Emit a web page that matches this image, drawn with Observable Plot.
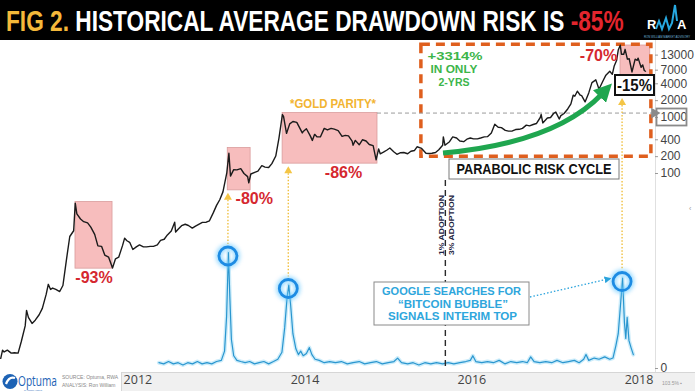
<!DOCTYPE html>
<html>
<head>
<meta charset="utf-8">
<script src="https://cdn.jsdelivr.net/npm/d3@7"></script>
<script src="https://cdn.jsdelivr.net/npm/@observablehq/plot@0.6"></script>
<style>
html,body{margin:0;padding:0;background:#fff;}
#wrap{position:relative;width:695px;height:391px;overflow:hidden;background:#fff;font-family:"Liberation Sans",Arial,sans-serif;}
.layer{position:absolute;left:0;top:40px;}
</style>
</head>
<body>
<div id="wrap">
  <svg id="title" width="695" height="40" style="position:absolute;left:0;top:0;background:#000">
    <g id="titleG"><text id="titleT" x="0" y="31" font-family="'Liberation Sans Narrow','Liberation Sans',Arial,sans-serif" font-weight="bold" font-size="30"><tspan fill="#f4b83a">FIG 2.</tspan><tspan fill="#ffffff"> HISTORICAL AVERAGE DRAWDOWN RISK IS </tspan><tspan fill="#e3252d">-85%</tspan></text></g>
    <text x="647" y="29" font-family="'Liberation Sans',Arial,sans-serif" font-weight="bold" font-size="13" fill="#ffffff">R</text>
    <polyline points="656,29 659,21 662,29 666,18 669,29 672,23 675,5 677,21" fill="none" stroke="#27a9e1" stroke-width="2"/>
    <text x="677" y="29" font-family="'Liberation Sans',Arial,sans-serif" font-weight="bold" font-size="13" fill="#ffffff">A</text>
    <text x="644" y="38" font-family="'Liberation Sans',Arial,sans-serif" font-size="3" fill="#6fb3d6" textLength="46" lengthAdjust="spacingAndGlyphs">RON WILLIAM MARKET ADVISORY</text>
  </svg>
  <div style="position:absolute;left:121px;top:372px;width:574px;height:19px;background:#f0f0f0;border-top:1px solid #d6d6d6;border-left:1px solid #d6d6d6;box-sizing:border-box"></div>
  <div style="position:absolute;left:655px;top:40px;width:1px;height:332px;background:#e0e0e0"></div>
  <div id="price" class="layer"></div>
  <div id="google" class="layer"></div>
  <svg id="ann" class="layer" width="695" height="351"></svg>
  <svg id="foot" width="695" height="19" style="position:absolute;left:0;top:372px">
    <circle cx="10" cy="9.5" r="7.5" fill="#1d63b5"/>
    <path d="M6,12 Q9,4 15,6" fill="none" stroke="#fff" stroke-width="2.2"/>
    <g id="optG" transform="translate(18,13.5) scale(1,1.3)"><text id="optT" x="0" y="0" font-family="'Open Sans',sans-serif" font-size="10.5" fill="#1d63b5">Optuma</text></g>
    <text x="24" y="18.8" font-family="'Open Sans',sans-serif" font-size="2.2" fill="#1d63b5">by Market Analyst</text>
    <text x="62" y="7" font-family="'Liberation Sans',Arial,sans-serif" font-size="5" fill="#888">SOURCE: Optuma, RWA</text>
    <text x="62" y="15" font-family="'Liberation Sans',Arial,sans-serif" font-size="5" fill="#888">ANALYSIS: Ron William</text>
    <text x="662" y="13" font-family="'Liberation Sans',Arial,sans-serif" font-size="5" fill="#999">103.5% ▪</text>
  </svg>
</div>
<script>
// ---------- DATA ----------
const priceDates = [
"2010-07-17","2010-07-25","2010-08-01","2010-08-15","2010-09-01","2010-09-15","2010-10-01","2010-10-15","2010-11-01","2010-11-07","2010-11-15","2010-12-01","2010-12-15",
"2011-01-01","2011-01-15","2011-02-01","2011-02-10","2011-02-20","2011-03-01","2011-03-15","2011-04-01","2011-04-15","2011-05-01","2011-05-15","2011-06-01","2011-06-08","2011-06-15","2011-07-01","2011-07-15","2011-08-01","2011-08-15","2011-09-01","2011-09-15","2011-10-01","2011-10-15","2011-11-01","2011-11-18","2011-12-01","2011-12-15",
"2012-01-01","2012-01-10","2012-01-20","2012-02-01","2012-02-15","2012-03-01","2012-03-15","2012-04-01","2012-04-15","2012-05-01","2012-05-15","2012-06-01","2012-06-15","2012-07-01","2012-07-15","2012-08-01","2012-08-16","2012-08-20","2012-09-01","2012-09-15","2012-10-01","2012-10-15","2012-11-01","2012-11-15","2012-12-01","2012-12-15",
"2013-01-01","2013-01-15","2013-02-01","2013-02-15","2013-03-01","2013-03-15","2013-04-01","2013-04-10","2013-04-17","2013-05-01","2013-05-15","2013-06-01","2013-06-15","2013-07-01","2013-07-06","2013-07-15","2013-08-01","2013-08-15","2013-09-01","2013-09-15","2013-10-01","2013-10-15","2013-11-01","2013-11-15","2013-11-30","2013-12-05","2013-12-18",
"2014-01-01","2014-01-15","2014-02-01","2014-02-25","2014-03-01","2014-03-15","2014-04-01","2014-04-10","2014-04-20","2014-05-01","2014-05-15","2014-06-01","2014-06-15","2014-07-01","2014-07-15","2014-08-01","2014-08-18","2014-09-01","2014-09-15","2014-10-01","2014-10-05","2014-10-15","2014-11-01","2014-11-15","2014-12-01","2014-12-15",
"2015-01-01","2015-01-14","2015-01-25","2015-02-01","2015-02-15","2015-03-01","2015-03-15","2015-04-01","2015-04-15","2015-05-01","2015-05-15","2015-06-01","2015-06-15","2015-07-01","2015-07-12","2015-08-01","2015-08-20","2015-09-01","2015-09-15","2015-10-01","2015-10-15","2015-11-01","2015-11-04","2015-11-11","2015-12-01","2015-12-15",
"2016-01-01","2016-01-15","2016-02-01","2016-02-15","2016-03-01","2016-03-15","2016-04-01","2016-04-15","2016-05-01","2016-05-15","2016-06-01","2016-06-16","2016-07-01","2016-07-15","2016-08-01","2016-08-15","2016-09-01","2016-09-15","2016-10-01","2016-10-15","2016-11-01","2016-11-15","2016-12-01","2016-12-15",
"2017-01-01","2017-01-05","2017-01-12","2017-02-01","2017-02-15","2017-03-01","2017-03-10","2017-03-25","2017-04-01","2017-04-15","2017-05-01","2017-05-15","2017-05-25","2017-06-01","2017-06-12","2017-06-25","2017-07-01","2017-07-16","2017-08-01","2017-08-15","2017-09-01","2017-09-15","2017-10-01","2017-10-15","2017-11-01","2017-11-12","2017-11-20","2017-12-01","2017-12-08","2017-12-17","2017-12-22",
"2018-01-01","2018-01-07","2018-01-17","2018-01-25","2018-02-06","2018-02-20","2018-03-01","2018-03-05","2018-03-18","2018-03-25","2018-04-01","2018-04-06"];
const priceValues = [
0.05,0.07,0.065,0.07,0.062,0.063,0.062,0.10,0.19,0.36,0.27,0.21,0.24,
0.30,0.39,0.70,1.05,0.85,0.90,0.85,0.78,1.00,3.0,7.5,9.5,29.6,19,15.4,13.8,13.1,11,8.2,5.1,5.0,3.5,3.2,2.05,3.0,3.2,
5.2,7.0,6.3,5.9,4.4,4.9,5.3,4.9,4.9,5.0,5.0,5.3,6.4,6.7,8.0,9.4,13.5,9.0,10.2,11.7,12.4,11.8,10.6,11.5,12.5,13.4,
13.5,14.3,20,27,34,47,104,230,90,117,116,122,100,88,68,98,105,110,138,130,128,150,205,430,1130,1050,520,
770,850,820,530,560,630,470,390,500,450,450,640,600,640,620,585,460,480,470,380,320,390,325,400,380,330,
315,175,275,225,240,260,285,245,220,235,237,225,250,258,300,280,230,228,230,237,265,320,450,320,370,450,
430,380,370,410,430,415,415,430,450,455,530,760,670,660,590,570,575,610,615,640,730,710,750,780,
1000,1130,800,980,1000,1190,1250,940,1080,1180,1420,1750,2500,2400,2950,2500,2450,1900,2750,4200,4700,3200,4400,5700,6700,5900,8200,10500,16000,19500,13500,
13500,16500,11000,11200,6500,11000,10500,11500,7900,8700,6900,6700];

const googleDates = [
"2012-06-08","2012-06-29","2012-07-20","2012-08-10","2012-08-31","2012-09-21","2012-10-12","2012-11-02","2012-11-23","2012-12-14",
"2013-01-04","2013-01-25","2013-02-15","2013-03-08","2013-03-22","2013-03-31","2013-04-08","2013-04-14","2013-04-21","2013-05-01","2013-05-15","2013-06-01","2013-06-20","2013-07-10","2013-07-31","2013-08-20","2013-09-10","2013-10-01","2013-10-22","2013-11-10","2013-11-28","2013-12-10","2013-12-20","2013-12-28",
"2014-01-05","2014-01-15","2014-01-28","2014-02-08","2014-02-18","2014-03-01","2014-03-15","2014-03-28","2014-04-08","2014-04-22","2014-05-10","2014-06-01","2014-06-25","2014-07-20","2014-08-15","2014-09-10","2014-10-05","2014-11-01","2014-11-25","2014-12-20",
"2015-01-15","2015-02-10","2015-03-08","2015-04-02","2015-04-18","2015-05-05","2015-06-01","2015-06-25","2015-07-20","2015-08-15","2015-09-10","2015-10-05","2015-11-01","2015-11-25","2015-12-20",
"2016-01-15","2016-02-10","2016-03-01","2016-03-12","2016-03-25","2016-04-20","2016-05-15","2016-06-10","2016-07-05","2016-07-30","2016-08-25","2016-09-20","2016-10-15","2016-11-05","2016-11-20","2016-12-05","2016-12-30",
"2017-01-25","2017-02-20","2017-03-15","2017-04-10","2017-05-05","2017-05-30","2017-06-20","2017-07-10","2017-07-20","2017-08-01","2017-08-25","2017-09-15","2017-10-10","2017-11-01","2017-11-15","2017-11-28","2017-12-08","2017-12-18","2017-12-27",
"2018-01-04","2018-01-10","2018-01-16","2018-01-24","2018-02-02","2018-02-12"];
const googleValues = [
5,4,6,4,5,3,5,4,6,4,
5,4,6,7,15,45,100,62,25,11,7,6,5,6,4,5,6,4,6,8,14,35,60,72,
55,30,17,12,15,11,13,18,12,8,7,5,6,5,6,4,5,6,4,5,
6,4,5,6,9,5,4,5,3,5,4,5,4,5,4,
5,6,7,11,6,5,6,5,7,4,6,5,6,5,10,6,5,
6,5,7,5,6,7,5,8,12,7,9,8,10,8,9,20,30,55,78,
40,26,44,24,18,12];

const priceTicks = [100, 200, 400, 1000, 2000, 4000, 7000, 13000];
const googleTicks = [0];
const yearTicks = ["2012-01-01", "2014-01-01", "2016-01-01", "2018-01-01"];

const drawdownStart = ["2011-06-09", "2013-04-05", "2013-12-01", "2017-12-18"];
const drawdownEnd   = ["2011-11-18", "2013-07-14", "2015-01-20", "2018-04-27"];
const drawdownHigh  = [31, 285, 1200, 19300];
const drawdownLow   = [2.0, 50, 150, 5600];
const drawdownLabels = ["-93%", "-80%", "-86%", "-70%"];

const googlePeakDates = ["2013-04-08", "2013-12-28", "2017-12-27"];
const cycleStart = "2015-07-31", cycleEnd = "2018-05-02", cycleLow = 200, cycleHigh = 20000;
const parityPrice = 1200, parityFrom = "2015-01-20", parityTo = "2018-05-06";
const adoptionDate = "2015-11-15";

// ---------- TITLE / LOGO FIT ----------
(function () {
  const t = document.getElementById("titleT");
  document.getElementById("titleG").setAttribute("transform", `translate(6,0) scale(${618 / t.getComputedTextLength()},1)`);
  const o = document.getElementById("optT");
  document.getElementById("optG").setAttribute("transform", `translate(18,13.5) scale(${39 / o.getComputedTextLength()},1.3)`);
})();

// ---------- BUILD ----------
const parse = d3.utcParse("%Y-%m-%d");
const price = priceDates.map((d, i) => ({date: parse(d), value: priceValues[i]}));
const google = googleDates.map((d, i) => ({date: parse(d), value: googleValues[i]}));
const dd = drawdownStart.map((d, i) => ({x1: parse(d), x2: parse(drawdownEnd[i]), high: drawdownHigh[i], low: drawdownLow[i], label: drawdownLabels[i]}));
const mid = (a, b) => new Date((a.getTime() + b.getTime()) / 2);

const xDomain = [parse("2010-07-16"), parse("2018-05-20")];
const tickEnd = d3.utcDay.offset(xDomain[1], 13);
const xOpts = {type: "utc", domain: xDomain, range: [0, 655], label: null};
const common = {width: 695, height: 351, marginTop: 0, marginLeft: 0, marginRight: 40, marginBottom: 19,
  style: {background: "transparent", overflow: "visible", fontFamily: "'Open Sans', sans-serif"}};
const lbl = {fontSize: 16, fontWeight: "bold", fill: "#d5282f", fontFamily: "'Liberation Sans', Arial, sans-serif"};
const axisText = {frameAnchor: "right", dx: 5, textAnchor: "start", fontSize: 12, fill: "#444", fontFamily: "'Liberation Sans', Arial, sans-serif"};

const plotPrice = Plot.plot({
  ...common,
  x: xOpts,
  y: {type: "log", domain: [0.01, 10000], range: [357, 21], label: null, axis: null},
  marks: [
    Plot.rect(dd, {x1: "x1", x2: "x2", y1: "low", y2: "high", fill: "#f6b2b2", fillOpacity: 0.85, stroke: "#d99c9c", strokeWidth: 0.8}),
    Plot.rect([{}], {x1: () => parse(cycleStart), x2: () => parse(cycleEnd), y1: () => cycleLow, y2: () => cycleHigh, fill: "none", stroke: "#df5f1e", strokeWidth: 3.5, strokeDasharray: "9,6"}),
    Plot.ruleY([parityPrice], {x1: parse(parityFrom), x2: parse(parityTo), stroke: "#9a9a9a", strokeWidth: 1, strokeDasharray: "4,3"}),
    Plot.dot([{}], {x: () => parse(parityTo), y: () => parityPrice, symbol: "triangle", rotate: 90, r: 4, fill: "#8a8a8a", dx: 2}),
    Plot.line(price, {x: "date", y: "value", stroke: "#1b1b1b", strokeWidth: 1.4}),
    Plot.text([dd[0]], {x: d => mid(d.x1, d.x2), y: "low", text: "label", dy: 9, textAnchor: "middle", ...lbl}),
    Plot.text([dd[1]], {x: "x2", y: "low", text: "label", dx: -15, dy: 9, textAnchor: "start", ...lbl}),
    Plot.text([dd[2]], {x: "x2", y: "low", text: "label", dx: -34, dy: 9, textAnchor: "middle", ...lbl}),
    Plot.text([dd[3]], {x: "x1", y: "high", text: "label", dx: -22, dy: 10, textAnchor: "middle", ...lbl}),
    Plot.axisX({ticks: yearTicks.map(parse), tickSize: 0, tickPadding: 3, textAnchor: "start", dx: 1, tickFormat: d3.utcFormat("%Y"), fontSize: 12.5, color: "#444", label: null}),
    Plot.ruleY(priceTicks, {x1: xDomain[1], x2: tickEnd, stroke: "#999", strokeWidth: 1}),
    Plot.text(priceTicks, {y: d => d, text: d => String(d), ...axisText})
  ]
});
document.getElementById("price").append(plotPrice);

const plotGoogle = Plot.plot({
  ...common,
  x: {...xOpts, axis: null},
  y: {domain: [0, 100], range: [328, 212], label: null, axis: null},
  marks: [
    Plot.line(google, {x: "date", y: "value", stroke: "#8fd4f4", strokeWidth: 4, strokeOpacity: 0.45}),
    Plot.line(google, {x: "date", y: "value", stroke: "#2a96cf", strokeWidth: 1.2}),
    Plot.ruleY(googleTicks, {x1: xDomain[1], x2: tickEnd, stroke: "#999", strokeWidth: 1}),
    Plot.text(googleTicks, {y: d => d, text: d => String(d), ...axisText})
  ]
});
document.getElementById("google").append(plotGoogle);

// ---------- ANNOTATIONS (positioned through both plots' scales) ----------
const X = plotPrice.scale("x"), Y = plotPrice.scale("y"), G = plotGoogle.scale("y");
const ann = d3.select("#ann");
const defs = ann.append("defs");
const glow = defs.append("filter").attr("id", "glow").attr("x", "-60%").attr("y", "-60%").attr("width", "220%").attr("height", "220%");
glow.append("feGaussianBlur").attr("stdDeviation", 2.2);
defs.append("marker").attr("id", "ag").attr("viewBox", "0 0 10 10").attr("refX", 2).attr("refY", 5)
  .attr("markerWidth", 3.6).attr("markerHeight", 3.6).attr("orient", "auto")
  .append("path").attr("d", "M0,0 L10,5 L0,10 Z").attr("fill", "#1fa64f");
defs.append("marker").attr("id", "ab").attr("viewBox", "0 0 10 10").attr("refX", 8).attr("refY", 5)
  .attr("markerWidth", 7).attr("markerHeight", 7).attr("orient", "auto").attr("markerUnits", "userSpaceOnUse")
  .append("path").attr("d", "M0,0 L10,5 L0,10 Z").attr("fill", "#2aa3dc");

const F = "'Liberation Sans', Arial, sans-serif";
function txt(x, y, s, o) {
  const t = ann.append("text").attr("x", x).attr("y", y).text(s)
    .attr("font-family", F).attr("font-weight", "bold").attr("text-anchor", o.anchor || "middle")
    .attr("font-size", o.size).attr("fill", o.fill);
  if (o.len) t.attr("textLength", o.len).attr("lengthAdjust", "spacingAndGlyphs");
  return t;
}
// one text element, several lines (tspans)
function block(lines, o) {
  const t = ann.append("text").attr("font-family", F).attr("font-weight", "bold")
    .attr("text-anchor", "middle").attr("font-size", o.size).attr("fill", o.fill);
  lines.forEach(([s, x, y, len]) => {
    t.append("tspan").attr("x", x).attr("y", y).attr("textLength", len).attr("lengthAdjust", "spacingAndGlyphs").text(s);
  });
  return t;
}

// blue circles and gold dotted lines
const gval = d => google.find(g => +g.date === +parse(d)).value;
const circles = googlePeakDates.map(d => ({cx: X.apply(parse(d)), cy: G.apply(gval(d)) + 4}));
const topY = [Y.apply(drawdownLow[1]) + 3, Y.apply(drawdownLow[2]) + 3, 58];
circles.forEach((c, i) => {
  const t = topY[i];
  ann.append("line").attr("x1", c.cx).attr("x2", c.cx).attr("y1", t + 7).attr("y2", c.cy - 12)
    .attr("stroke", "#f0c040").attr("stroke-width", 1.4).attr("stroke-dasharray", "1.5,1.8");
  ann.append("path").attr("d", `M${c.cx},${t} L${c.cx - 4},${t + 7} L${c.cx + 4},${t + 7} Z`).attr("fill", "#f4c545");
  ann.append("circle").attr("cx", c.cx).attr("cy", c.cy).attr("r", 9).attr("fill", "none")
    .attr("stroke", "#6ccaff").attr("stroke-width", 6).attr("opacity", 0.7).attr("filter", "url(#glow)");
  ann.append("circle").attr("cx", c.cx).attr("cy", c.cy).attr("r", 9).attr("fill", "none")
    .attr("stroke", "#1d8be3").attr("stroke-width", 2.8);
});

// gold parity label
txt(333, 68, "*GOLD PARITY*", {size: 12, fill: "#f2b431", len: 86});

// 1000 boxed label
const y1000 = Y.apply(1000);
ann.append("rect").attr("x", 656.5).attr("y", y1000 - 8.5).attr("width", 30).attr("height", 17)
  .attr("fill", "none").attr("stroke", "#8a8a8a").attr("stroke-width", 1.8);

// green growth text and arrow
block([["+3314%", 455, 20, 55], ["IN ONLY", 454, 33, 47], ["2-YRS", 454, 46, 31]], {size: 11.5, fill: "#3cb54a"});
ann.append("path").attr("d", "M443,113 Q555,103 602,54").attr("fill", "none")
  .attr("stroke", "#1fa64f").attr("stroke-width", 5).attr("marker-end", "url(#ag)");

// -15% box
ann.append("rect").attr("x", 615).attr("y", 35).attr("width", 39).attr("height", 20)
  .attr("fill", "#fff").attr("stroke", "#111").attr("stroke-width", 2);
txt(634.5, 51, "-15%", {size: 17, fill: "#111", len: 35});

// parabolic risk cycle box
ann.append("rect").attr("x", 449).attr("y", 119).attr("width", 170).attr("height", 20)
  .attr("fill", "#fff").attr("stroke", "#7a7a7a").attr("stroke-width", 1);
txt(534, 134, "PARABOLIC RISK CYCLE", {size: 14, fill: "#111", len: 155});

// adoption line
const xa = X.apply(parse(adoptionDate));
ann.append("line").attr("x1", xa).attr("x2", xa).attr("y1", 140).attr("y2", 330)
  .attr("stroke", "#2a2a2a").attr("stroke-width", 1.4).attr("stroke-dasharray", "6,4");
[["1% ADOPTION", xa - 1.5], ["3% ADOPTION", xa + 8.5]].forEach(([s, bx]) => {
  ann.append("text").attr("transform", `translate(${bx},185) rotate(-90)`).attr("text-anchor", "middle")
    .attr("font-family", F).attr("font-weight", "bold").attr("font-size", 8).attr("fill", "#1c2340")
    .attr("textLength", 60).attr("lengthAdjust", "spacingAndGlyphs").text(s);
});

// google searches box
ann.append("rect").attr("x", 374).attr("y", 242).attr("width", 155).attr("height", 43)
  .attr("fill", "#fff").attr("stroke", "#8a8a8a").attr("stroke-width", 1);
block([["GOOGLE SEARCHES FOR", 451.5, 255, 139], ["\u201CBITCOIN BUBBLE\u201D", 453, 267.5, 110], ["SIGNALS INTERIM TOP", 452.5, 280, 129]],
  {size: 11, fill: "#2ea6dc"});
const c3 = circles[2];
ann.append("line").attr("x1", 530).attr("y1", 257).attr("x2", c3.cx - 12).attr("y2", c3.cy - 3)
  .attr("stroke", "#2aa3dc").attr("stroke-width", 1.3).attr("stroke-dasharray", "1.5,2").attr("marker-end", "url(#ab)");

// tiny marker at right edge
ann.append("text").attr("x", 689).attr("y", 171).attr("font-size", 7).attr("fill", "#999").attr("font-family", F).text("\u2039");
</script>
</body>
</html>
